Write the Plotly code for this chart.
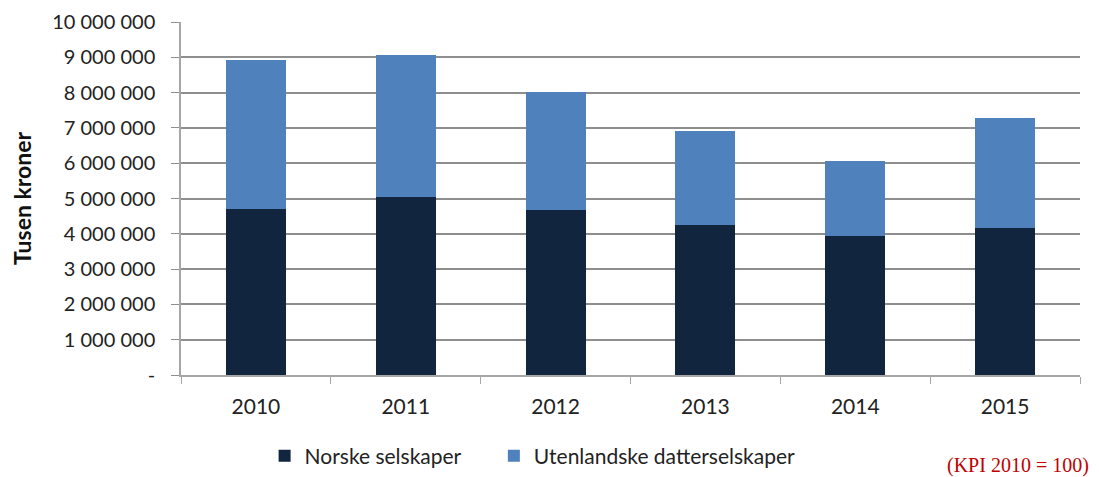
import plotly.graph_objects as go

years = ["2010", "2011", "2012", "2013", "2014", "2015"]
norske = [4710000, 5030000, 4680000, 4250000, 3930000, 4160000]
utenlandske = [4200000, 4040000, 3340000, 2670000, 2140000, 3120000]

y_ticks = [0, 1000000, 2000000, 3000000, 4000000, 5000000,
           6000000, 7000000, 8000000, 9000000, 10000000]
y_labels = ["-", "1 000 000", "2 000 000", "3 000 000", "4 000 000", "5 000 000",
            "6 000 000", "7 000 000", "8 000 000", "9 000 000", "10 000 000"]

font_main = "Lato, 'Open Sans', sans-serif"

fig = go.Figure()
fig.add_trace(go.Bar(
    x=years, y=norske, name="Norske selskaper",
    marker=dict(color="#12253F", line=dict(width=0)),
    legend="legend", showlegend=True,
))
fig.add_trace(go.Bar(
    x=years, y=utenlandske, name="Utenlandske datterselskaper",
    marker=dict(color="#4F81BD", line=dict(width=0)),
    legend="legend2", showlegend=True,
))

# the page body has an 8px margin, so the figure is made smaller and shifted
fig.update_layout(
    showlegend=True,
    barmode="stack",
    bargap=0.6,
    width=1091, height=469,
    margin=dict(l=173, r=19, t=14, b=102, autoexpand=False),
    plot_bgcolor="white",
    paper_bgcolor="white",
    font=dict(family=font_main, size=20, color="#222222"),
    legend=dict(
        orientation="h",
        x=0.093, xanchor="left",
        y=-0.23, yanchor="middle",
        font=dict(size=21),
    ),
    legend2=dict(
        orientation="h",
        x=0.348, xanchor="left",
        y=-0.23, yanchor="middle",
        font=dict(size=21),
    ),
    xaxis=dict(
        automargin=False,
        showline=True, linecolor="#A6A6A6", linewidth=1.5,
        ticks="outside", tickson="boundaries", ticklen=7, tickcolor="#A6A6A6",
        tickfont=dict(size=21),
        ticklabelstandoff=12,
    ),
    yaxis=dict(
        automargin=False,
        range=[0, 10000000],
        tickvals=y_ticks, ticktext=y_labels,
        showgrid=True, gridcolor="#8E8E8E", gridwidth=1.5,
        showline=True, linecolor="#A6A6A6", linewidth=1.5,
        ticks="outside", ticklen=8, tickcolor="#8E8E8E",
        tickfont=dict(size=20),
        ticklabelstandoff=12,
        zeroline=False,
        title=dict(text="<b>Tusen kroner</b>", font=dict(size=23, color="#111111"), standoff=16),
    ),
    annotations=[dict(
        text="(KPI 2010 = 100)",
        xref="paper", yref="paper",
        x=1.011, y=-0.256, xanchor="right", yanchor="middle",
        showarrow=False, borderpad=0,
        font=dict(family="'Liberation Serif', 'Times New Roman', serif", size=20, color="#C00000"),
    )],
)

fig.write_html("out.html")
